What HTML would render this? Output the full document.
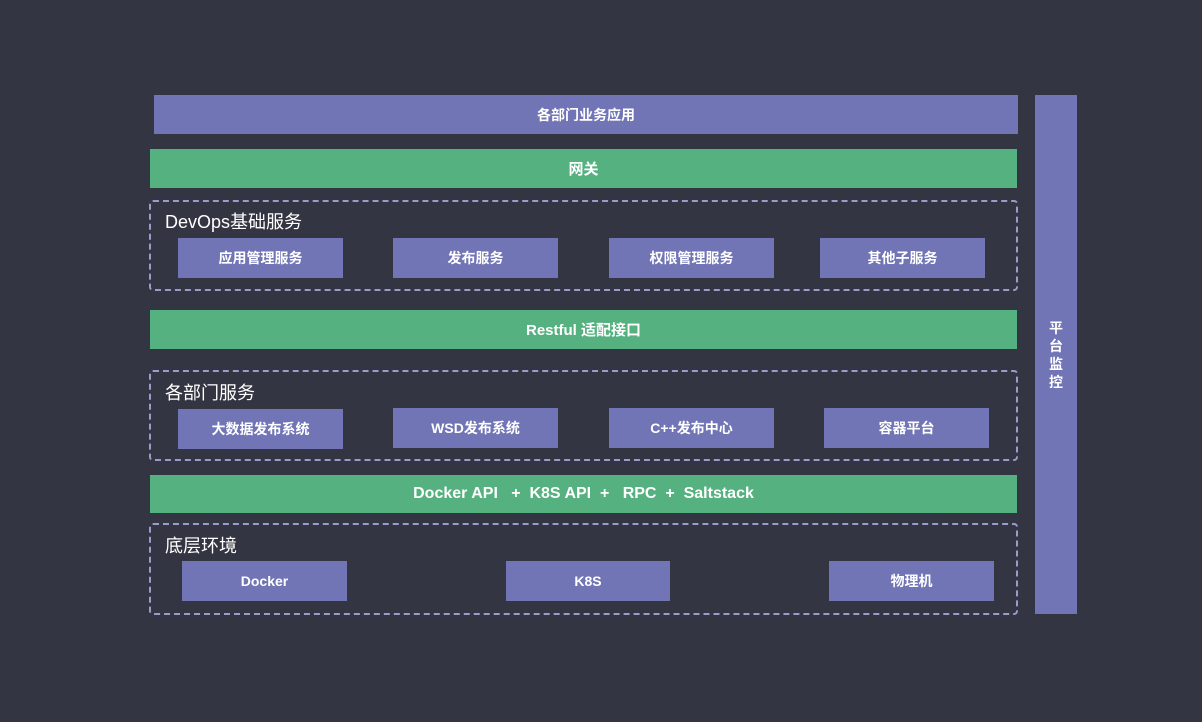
<!DOCTYPE html>
<html><head><meta charset="utf-8"><style>
html,body{margin:0;padding:0;}
body{width:1202px;height:722px;background:#343542;position:relative;overflow:hidden;font-family:"Liberation Sans","Noto Sans CJK SC",sans-serif;}
.b{position:absolute;display:flex;align-items:center;justify-content:center;color:#fff;font-weight:bold;font-size:14px;white-space:pre;}
.p{background:#7175b6;}
.g{background:#55b180;font-size:15px;}
.d{position:absolute;border:2px dashed #9a9ccc;border-radius:4px;box-sizing:border-box;}
.t{position:absolute;color:#fff;font-size:18px;}
</style></head><body>
<div class="b p" style="left:154px;top:95px;width:864px;height:39px;">各部门业务应用</div>
<div class="b g" style="left:150px;top:149px;width:867px;height:39px;">网关</div>
<div class="d" style="left:149px;top:200px;width:869px;height:91px;"></div>
<div class="t" style="left:165px;top:208px;">DevOps基础服务</div>
<div class="b p" style="left:178px;top:238px;width:165px;height:40px;">应用管理服务</div>
<div class="b p" style="left:393px;top:238px;width:165px;height:40px;">发布服务</div>
<div class="b p" style="left:609px;top:238px;width:165px;height:40px;">权限管理服务</div>
<div class="b p" style="left:820px;top:238px;width:165px;height:40px;">其他子服务</div>
<div class="b g" style="left:150px;top:310px;width:867px;height:39px;">Restful 适配接口</div>
<div class="d" style="left:149px;top:370px;width:869px;height:91px;"></div>
<div class="t" style="left:165px;top:379px;">各部门服务</div>
<div class="b p" style="left:178px;top:409px;width:165px;height:40px;">大数据发布系统</div>
<div class="b p" style="left:393px;top:408px;width:165px;height:40px;">WSD发布系统</div>
<div class="b p" style="left:609px;top:408px;width:165px;height:40px;">C++发布中心</div>
<div class="b p" style="left:824px;top:408px;width:165px;height:40px;">容器平台</div>
<div class="b g" style="left:150px;top:475px;width:867px;height:38px;font-size:16px;">Docker API   +  K8S API  +   RPC  +  Saltstack</div>
<div class="d" style="left:149px;top:523px;width:869px;height:92px;"></div>
<div class="t" style="left:165px;top:532px;">底层环境</div>
<div class="b p" style="left:182px;top:561px;width:165px;height:40px;">Docker</div>
<div class="b p" style="left:506px;top:561px;width:164px;height:40px;">K8S</div>
<div class="b p" style="left:829px;top:561px;width:165px;height:40px;">物理机</div>
<div class="b p" style="left:1035px;top:95px;width:42px;height:519px;align-items:flex-start;"><div style="margin-top:224px;width:14px;line-height:18px;text-align:center;white-space:normal;font-size:14px;">平台监控</div></div>
</body></html>
